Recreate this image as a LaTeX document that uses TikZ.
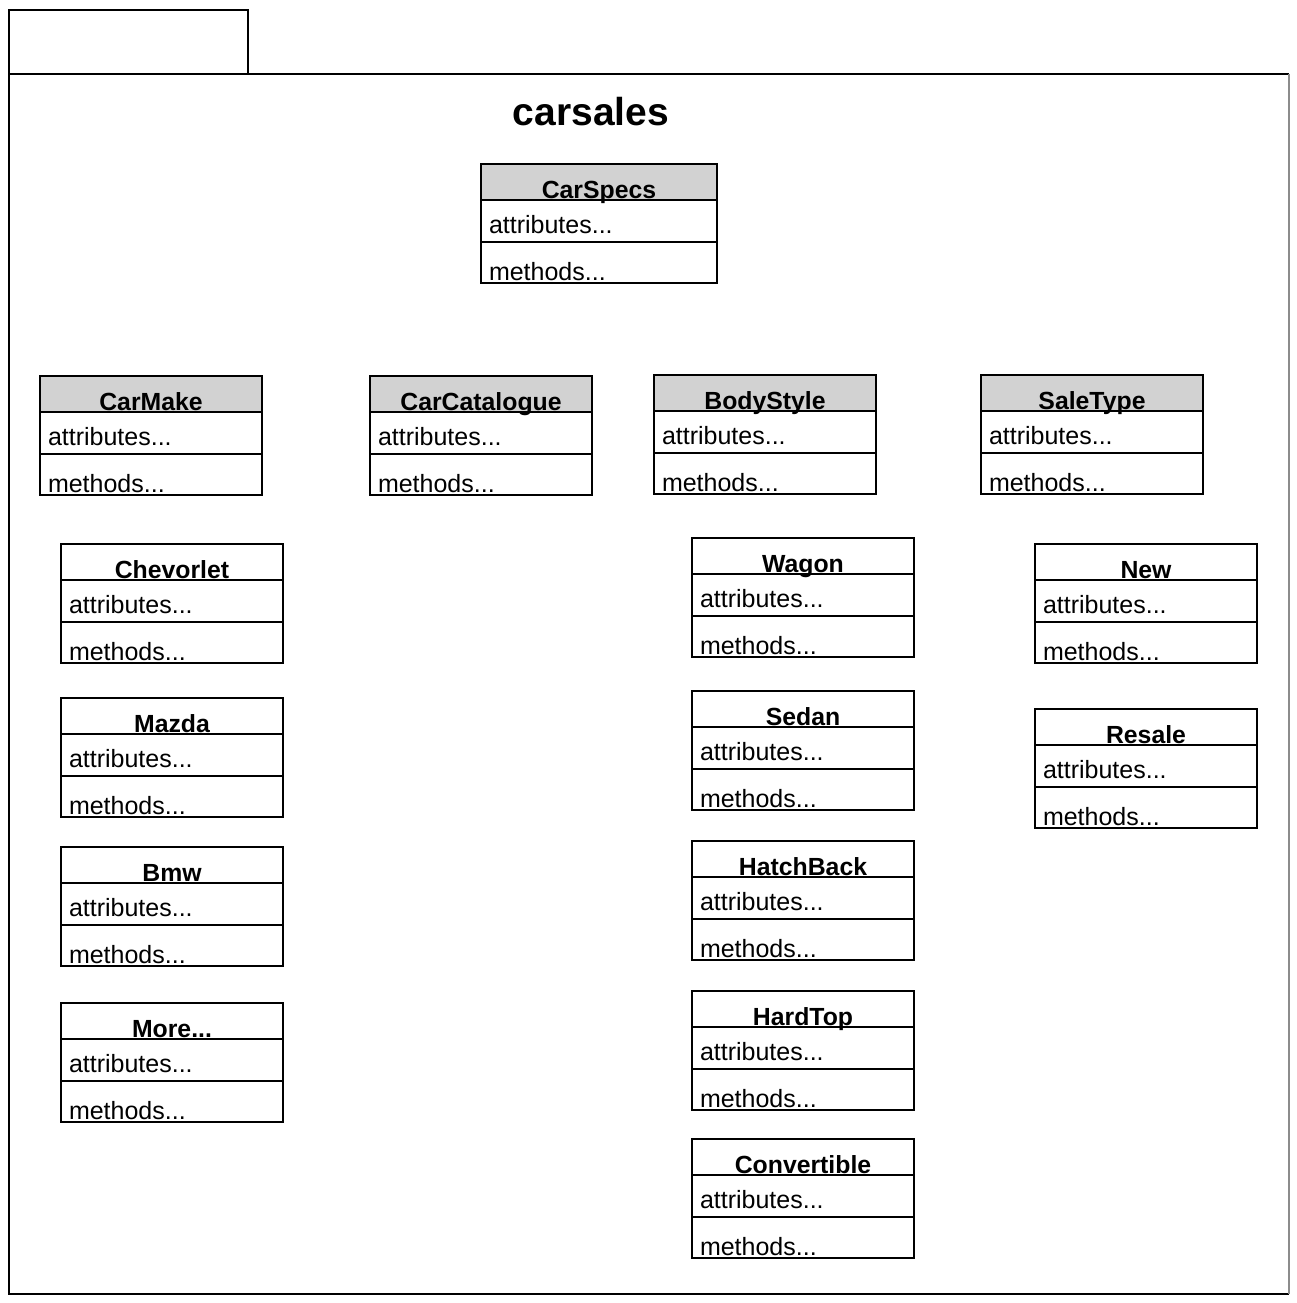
\documentclass[tikz,border=0pt]{standalone}
\usepackage{fontspec}
\setmainfont{Liberation Sans}
\usetikzlibrary{positioning}
\definecolor{headgray}{RGB}{210,210,210}
\tikzstyle{umlhead} = [rectangle, draw=black, line width=1.5pt, inner sep=0pt, outer sep=0pt, minimum width=222pt, minimum height=36pt, text height=34pt, text depth=2pt, text centered, font=\fontsize{24.8}{28}\selectfont\bfseries, anchor=north west]
\tikzstyle{umlattr} = [rectangle, draw=black, line width=1.5pt, inner xsep=8pt, inner ysep=0pt, outer sep=0pt, text width=206pt, align=left, minimum height=42pt, text height=33pt, text depth=9pt, font=\fontsize{25}{28}\selectfont]
\tikzstyle{umlmeth} = [umlattr, minimum height=41pt, text height=38pt, text depth=3pt]
\tikzstyle{frame} = [draw=black, line width=1.5pt]

\begin{document}
\begin{tikzpicture}[x=1pt, y=-1pt, node distance=0pt]
        \useasboundingbox (0,0) rectangle (1297,1303);
        \fill[white] (0,0) rectangle (1297,1303);
        % package frame
        \draw [frame] (9,74) rectangle (248,10);
        \draw [frame] (1289,74) -- (9,74) -- (9,1294) -- (1289,1294);
        \draw [draw=black!45, line width=1.5pt] (1289,74) -- (1289,1294);
        \node (title) [anchor=base, font=\fontsize{39}{44}\selectfont\bfseries] at (591,126) {carsales};

        % top level classes
        \node (carspecs) [umlhead, fill=headgray, minimum width=236pt] at (481,164) {CarSpecs};
        \node (carspecs-a) [umlattr, text width=220pt, below=of carspecs] {attributes...};
        \node (carspecs-m) [umlmeth, text width=220pt, below=of carspecs-a] {methods...};

        \node (carmake) [umlhead, fill=headgray] at (40,376) {CarMake};
        \node (carmake-a) [umlattr, below=of carmake] {attributes...};
        \node (carmake-m) [umlmeth, below=of carmake-a] {methods...};

        \node (catalogue) [umlhead, fill=headgray] at (370,376) {CarCatalogue};
        \node (catalogue-a) [umlattr, below=of catalogue] {attributes...};
        \node (catalogue-m) [umlmeth, below=of catalogue-a] {methods...};

        \node (bodystyle) [umlhead, fill=headgray] at (654,375) {BodyStyle};
        \node (bodystyle-a) [umlattr, below=of bodystyle] {attributes...};
        \node (bodystyle-m) [umlmeth, below=of bodystyle-a] {methods...};

        \node (saletype) [umlhead, fill=headgray] at (981,375) {SaleType};
        \node (saletype-a) [umlattr, below=of saletype] {attributes...};
        \node (saletype-m) [umlmeth, below=of saletype-a] {methods...};

        % car makes
        \node (chevorlet) [umlhead] at (61,544) {Chevorlet};
        \node (chevorlet-a) [umlattr, below=of chevorlet] {attributes...};
        \node (chevorlet-m) [umlmeth, below=of chevorlet-a] {methods...};

        \node (mazda) [umlhead] at (61,698) {Mazda};
        \node (mazda-a) [umlattr, below=of mazda] {attributes...};
        \node (mazda-m) [umlmeth, below=of mazda-a] {methods...};

        \node (bmw) [umlhead] at (61,847) {Bmw};
        \node (bmw-a) [umlattr, below=of bmw] {attributes...};
        \node (bmw-m) [umlmeth, below=of bmw-a] {methods...};

        \node (more) [umlhead] at (61,1003) {More...};
        \node (more-a) [umlattr, below=of more] {attributes...};
        \node (more-m) [umlmeth, below=of more-a] {methods...};

        % body styles
        \node (wagon) [umlhead] at (692,538) {Wagon};
        \node (wagon-a) [umlattr, below=of wagon] {attributes...};
        \node (wagon-m) [umlmeth, below=of wagon-a] {methods...};

        \node (sedan) [umlhead] at (692,691) {Sedan};
        \node (sedan-a) [umlattr, below=of sedan] {attributes...};
        \node (sedan-m) [umlmeth, below=of sedan-a] {methods...};

        \node (hatchback) [umlhead] at (692,841) {HatchBack};
        \node (hatchback-a) [umlattr, below=of hatchback] {attributes...};
        \node (hatchback-m) [umlmeth, below=of hatchback-a] {methods...};

        \node (hardtop) [umlhead] at (692,991) {HardTop};
        \node (hardtop-a) [umlattr, below=of hardtop] {attributes...};
        \node (hardtop-m) [umlmeth, below=of hardtop-a] {methods...};

        \node (convertible) [umlhead] at (692,1139) {Convertible};
        \node (convertible-a) [umlattr, below=of convertible] {attributes...};
        \node (convertible-m) [umlmeth, below=of convertible-a] {methods...};

        % sale types
        \node (new) [umlhead] at (1035,544) {New};
        \node (new-a) [umlattr, below=of new] {attributes...};
        \node (new-m) [umlmeth, below=of new-a] {methods...};

        \node (resale) [umlhead] at (1035,709) {Resale};
        \node (resale-a) [umlattr, below=of resale] {attributes...};
        \node (resale-m) [umlmeth, below=of resale-a] {methods...};
      \end{tikzpicture}
\end{document}
